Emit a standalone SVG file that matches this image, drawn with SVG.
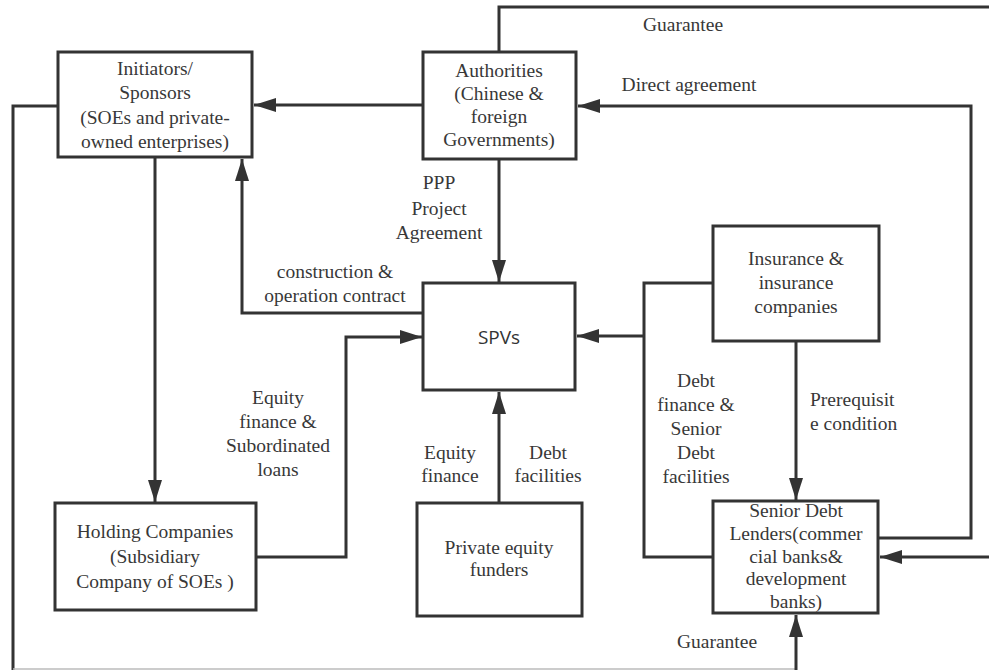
<svg xmlns="http://www.w3.org/2000/svg" width="989" height="670" viewBox="0 0 989 670">
  <style>
    .box { fill: #fff; stroke: #333; stroke-width: 3; }
    .wire { fill: none; stroke: #333; stroke-width: 3; }
    .edge { fill: none; stroke: #bbb; stroke-width: 1.5; }
    .t { font-family: "Liberation Serif", "Times New Roman", serif; font-size: 19.5px; fill: #383838; text-anchor: middle; }
    .ts { font-family: "Open Sans", "DejaVu Sans", sans-serif; font-size: 19px; fill: #333; text-anchor: middle; }
    .l { text-anchor: start; }
  </style>
  <defs>
    <marker id="arrow" markerUnits="userSpaceOnUse" markerWidth="24" markerHeight="16" refX="22" refY="7" orient="auto">
      <path d="M0,0 L22,7 L0,14 z" fill="#333"/>
    </marker>
  </defs>

  <rect width="989" height="670" fill="#fff"/>

  <!-- connectors -->
  <g id="connectors">
    <path class="wire" d="M423,105 H254" marker-end="url(#arrow)"/>
    <!-- guarantee loop from the sponsors round the bottom to the senior lenders -->
    <path class="wire" d="M58,106 H13 V670"/>
    <path class="edge" d="M13,669 H796"/>
    <path class="wire" d="M796,670 V615" marker-end="url(#arrow)"/>
    <path class="wire" d="M499,52 V7 H989"/>
    <path class="wire" d="M155,157 V502" marker-end="url(#arrow)"/>
    <path class="wire" d="M256,557 H346 V337 H422" marker-end="url(#arrow)"/>
    <path class="wire" d="M423,313 H242 V159" marker-end="url(#arrow)"/>
    <path class="wire" d="M499,159 V282" marker-end="url(#arrow)"/>
    <path class="wire" d="M499,503 V392" marker-end="url(#arrow)"/>
    <path class="wire" d="M713,283 H644 V557 H713"/>
    <path class="wire" d="M644,336 H577" marker-end="url(#arrow)"/>
    <path class="wire" d="M796,341 V500" marker-end="url(#arrow)"/>
    <path class="wire" d="M878,538 H971 V106 H578" marker-end="url(#arrow)"/>
    <path class="wire" d="M989,557 H880" marker-end="url(#arrow)"/>
  </g>

  <!-- connector labels -->
  <g id="labels">
    <text class="t" x="683" y="31">Guarantee</text>
    <text class="t" x="689" y="91">Direct agreement</text>
    <text class="t" x="439" y="189">PPP</text>
    <text class="t" x="439" y="215">Project</text>
    <text class="t" x="439" y="239">Agreement</text>
    <text class="t" x="335" y="278">construction &amp;</text>
    <text class="t" x="335" y="302">operation contract</text>
    <text class="t" x="278" y="404">Equity</text>
    <text class="t" x="278" y="428">finance &amp;</text>
    <text class="t" x="278" y="452">Subordinated</text>
    <text class="t" x="278" y="476">loans</text>
    <text class="t" x="450" y="459">Equity</text>
    <text class="t" x="450" y="482">finance</text>
    <text class="t" x="548" y="459">Debt</text>
    <text class="t" x="548" y="482">facilities</text>
    <text class="t" x="696" y="387">Debt</text>
    <text class="t" x="696" y="411">finance &amp;</text>
    <text class="t" x="696" y="435">Senior</text>
    <text class="t" x="696" y="459">Debt</text>
    <text class="t" x="696" y="483">facilities</text>
    <text class="t l" x="810" y="406">Prerequisit</text>
    <text class="t l" x="810" y="430">e condition</text>
    <text class="t" x="717" y="648">Guarantee</text>
  </g>

  <!-- nodes -->
  <g id="initiators">
    <rect class="box" x="58" y="52" width="194" height="105"/>
    <text class="t" x="155" y="75">Initiators/</text>
    <text class="t" x="155" y="99">Sponsors</text>
    <text class="t" x="155" y="124">(SOEs and private-</text>
    <text class="t" x="155" y="148">owned enterprises)</text>
  </g>

  <g id="authorities">
    <rect class="box" x="423" y="52" width="153" height="107"/>
    <text class="t" x="499" y="77">Authorities</text>
    <text class="t" x="499" y="100">(Chinese &amp;</text>
    <text class="t" x="499" y="123">foreign</text>
    <text class="t" x="499" y="146">Governments)</text>
  </g>

  <g id="spvs">
    <rect class="box" x="423" y="283" width="152" height="107"/>
    <text class="ts" x="499" y="344">SPVs</text>
  </g>

  <g id="insurance">
    <rect class="box" x="713" y="226" width="166" height="115"/>
    <text class="t" x="796" y="265">Insurance &amp;</text>
    <text class="t" x="796" y="289">insurance</text>
    <text class="t" x="796" y="313">companies</text>
  </g>

  <g id="holding">
    <rect class="box" x="55" y="503" width="201" height="107"/>
    <text class="t" x="155" y="538">Holding Companies</text>
    <text class="t" x="155" y="563">(Subsidiary</text>
    <text class="t" x="155" y="588">Company of SOEs )</text>
  </g>

  <g id="private-equity">
    <rect class="box" x="417" y="503" width="165" height="113"/>
    <text class="t" x="499" y="554">Private equity</text>
    <text class="t" x="499" y="576">funders</text>
  </g>

  <g id="senior-lenders">
    <rect class="box" x="713" y="501" width="165" height="112"/>
    <text class="t" x="796" y="517">Senior Debt</text>
    <text class="t" x="796" y="540">Lenders(commer</text>
    <text class="t" x="796" y="563">cial banks&amp;</text>
    <text class="t" x="796" y="585">development</text>
    <text class="t" x="796" y="608">banks)</text>
  </g>
</svg>
